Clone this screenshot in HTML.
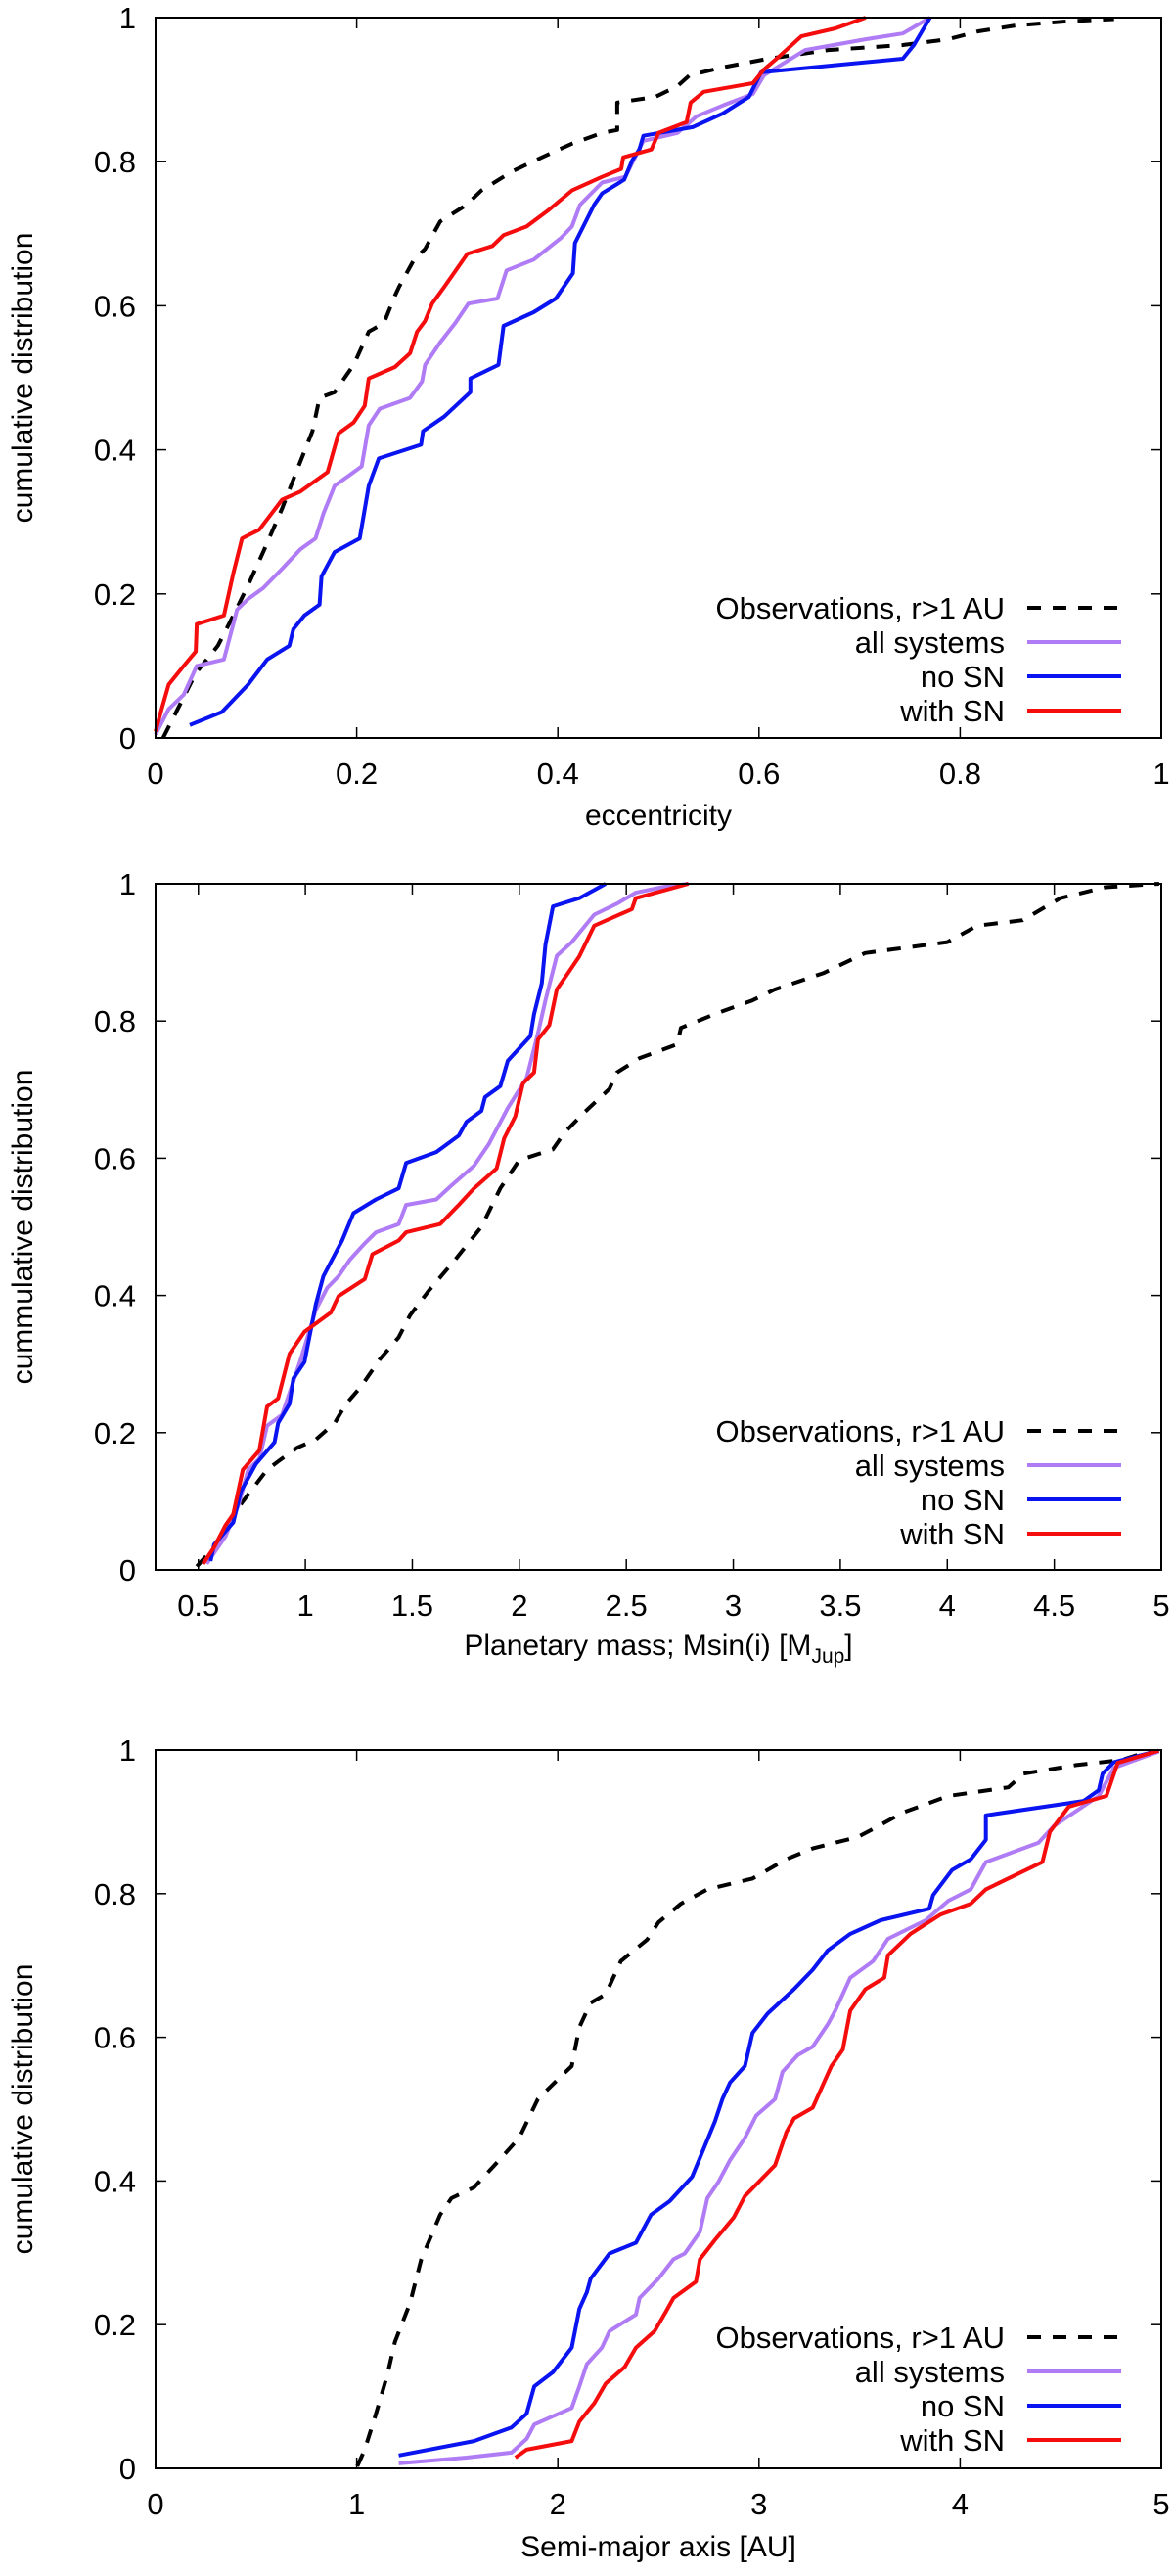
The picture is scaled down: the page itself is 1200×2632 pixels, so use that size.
<!DOCTYPE html>
<html><head><meta charset="utf-8">
<style>
html,body{margin:0;padding:0;background:#fff;}
svg{display:block;font-family:"Liberation Sans",sans-serif;}
</style></head>
<body>
<svg id="fig" width="1200" height="2632" viewBox="0 0 1200 2632" xmlns="http://www.w3.org/2000/svg"></svg>
<script>
// ---------- Panel 1: eccentricity ----------
const eccObsX=[0.0075,0.04,0.062,0.073,0.092,0.107,0.126,0.141,0.156,0.163,0.178,0.197,0.212,0.227,0.238,0.242,0.257,0.268,0.283,0.309,0.324,0.354,0.384,0.414,0.444,0.459,0.459,0.497,0.519,0.531,0.564,0.609,0.669,0.743,0.788,0.818,0.855,0.908,0.953];
const eccObsY=[0,0.09,0.128,0.158,0.212,0.258,0.319,0.373,0.426,0.472,0.48,0.518,0.564,0.576,0.614,0.626,0.664,0.679,0.717,0.74,0.76,0.786,0.806,0.825,0.84,0.844,0.882,0.89,0.905,0.92,0.931,0.943,0.955,0.962,0.97,0.981,0.989,0.995,0.998];
const eccAllX=[0,0.013,0.028,0.041,0.068,0.081,0.092,0.107,0.126,0.144,0.159,0.167,0.178,0.193,0.205,0.212,0.223,0.253,0.265,0.268,0.283,0.298,0.311,0.34,0.349,0.376,0.403,0.414,0.422,0.444,0.467,0.485,0.519,0.538,0.564,0.594,0.605,0.646,0.706,0.743,0.77];
const eccAllY=[0.005,0.04,0.06,0.1,0.109,0.178,0.193,0.208,0.235,0.262,0.277,0.312,0.35,0.365,0.377,0.434,0.457,0.472,0.495,0.518,0.549,0.576,0.603,0.61,0.649,0.664,0.694,0.71,0.74,0.771,0.779,0.829,0.84,0.863,0.878,0.894,0.92,0.955,0.97,0.978,1];
const eccNoX=[0.034,0.066,0.092,0.111,0.133,0.137,0.148,0.163,0.165,0.178,0.203,0.212,0.222,0.264,0.266,0.287,0.313,0.313,0.341,0.346,0.376,0.398,0.415,0.417,0.436,0.444,0.466,0.474,0.481,0.485,0.534,0.564,0.59,0.602,0.743,0.754,0.77];
const eccNoY=[0.018,0.036,0.074,0.109,0.128,0.151,0.17,0.185,0.224,0.258,0.277,0.35,0.388,0.407,0.426,0.446,0.48,0.499,0.518,0.572,0.591,0.61,0.645,0.687,0.74,0.756,0.775,0.802,0.817,0.836,0.848,0.867,0.89,0.924,0.943,0.962,1];
const eccSnX=[0,0.006,0.013,0.028,0.04,0.041,0.068,0.077,0.086,0.103,0.126,0.144,0.171,0.182,0.197,0.208,0.212,0.238,0.253,0.26,0.268,0.275,0.287,0.31,0.335,0.346,0.369,0.391,0.414,0.444,0.463,0.465,0.493,0.5,0.528,0.532,0.545,0.594,0.605,0.62,0.642,0.676,0.706];
const eccSnY=[0.009,0.04,0.074,0.1,0.12,0.158,0.17,0.227,0.277,0.289,0.331,0.342,0.369,0.423,0.438,0.461,0.499,0.515,0.534,0.564,0.579,0.603,0.626,0.672,0.683,0.698,0.71,0.733,0.76,0.779,0.79,0.806,0.817,0.84,0.855,0.882,0.897,0.909,0.928,0.946,0.974,0.985,1];
const eccXTicks=[0,0.2,0.4,0.6,0.8,1];
const eccXTickLabels=["0","0.2","0.4","0.6","0.8","1"];

// ---------- Panel 2: planetary mass ----------
const massObsX=[0.493,0.539,0.61,0.663,0.733,0.821,0.873,0.961,1.049,1.137,1.19,1.26,1.348,1.436,1.489,1.577,1.70,1.823,1.911,1.999,2.157,2.21,2.298,2.421,2.456,2.562,2.738,2.755,2.913,3.089,3.194,3.423,3.616,4.0,4.14,4.352,4.528,4.739,4.99];
const massObsY=[0.005,0.021,0.049,0.081,0.11,0.146,0.158,0.178,0.19,0.214,0.242,0.267,0.307,0.339,0.371,0.407,0.452,0.5,0.556,0.597,0.613,0.637,0.665,0.701,0.725,0.746,0.766,0.79,0.81,0.83,0.846,0.87,0.899,0.915,0.939,0.947,0.979,0.995,1];
const massAllX=[0.539,0.627,0.69,0.733,0.785,0.821,0.891,0.926,0.979,1.049,1.102,1.155,1.208,1.278,1.33,1.436,1.471,1.612,1.682,1.788,1.858,1.946,2.034,2.087,2.122,2.175,2.245,2.35,2.456,2.544,2.667,2.79];
const massAllY=[0.009,0.049,0.097,0.146,0.162,0.21,0.226,0.258,0.307,0.379,0.411,0.428,0.452,0.476,0.492,0.504,0.532,0.54,0.56,0.589,0.621,0.673,0.717,0.782,0.83,0.895,0.915,0.955,0.971,0.987,0.995,1];
const massNoX=[0.557,0.574,0.663,0.698,0.768,0.856,0.873,0.926,0.944,0.996,1.049,1.084,1.172,1.225,1.33,1.436,1.471,1.612,1.717,1.753,1.823,1.84,1.911,1.946,2.052,2.069,2.105,2.122,2.157,2.28,2.403];
const massNoY=[0.013,0.037,0.069,0.114,0.154,0.186,0.214,0.242,0.279,0.303,0.387,0.428,0.48,0.52,0.54,0.556,0.593,0.609,0.633,0.653,0.669,0.689,0.705,0.742,0.778,0.81,0.855,0.911,0.967,0.979,1];
const massSnX=[0.522,0.574,0.627,0.663,0.708,0.785,0.821,0.873,0.926,0.996,1.119,1.155,1.278,1.313,1.436,1.471,1.63,1.717,1.788,1.894,1.929,1.981,2.017,2.069,2.087,2.14,2.175,2.228,2.28,2.35,2.526,2.544,2.79];
const massSnY=[0.009,0.033,0.065,0.081,0.146,0.174,0.238,0.25,0.315,0.347,0.375,0.399,0.424,0.46,0.48,0.492,0.504,0.532,0.556,0.585,0.629,0.661,0.709,0.725,0.773,0.794,0.846,0.87,0.894,0.939,0.963,0.979,1];
const massXTicks=[0.5,1,1.5,2,2.5,3,3.5,4,4.5,5];
const massXTickLabels=["0.5","1","1.5","2","2.5","3","3.5","4","4.5","5"];

// ---------- Panel 3: semi-major axis ----------
const smaObsX=[1.003,1.04,1.096,1.152,1.19,1.265,1.321,1.415,1.471,1.583,1.695,1.808,1.901,2.013,2.069,2.107,2.163,2.238,2.313,2.444,2.5,2.612,2.743,2.968,3.136,3.267,3.492,3.567,3.716,3.941,4.24,4.315,4.577,4.802,4.95];
const smaObsY=[0.003,0.026,0.076,0.13,0.176,0.23,0.291,0.353,0.376,0.391,0.425,0.46,0.514,0.545,0.56,0.614,0.648,0.66,0.706,0.736,0.76,0.786,0.806,0.821,0.848,0.863,0.879,0.89,0.913,0.936,0.948,0.967,0.979,0.986,0.999];
const smaAllX=[1.209,1.546,1.77,1.845,1.883,2.069,2.107,2.144,2.219,2.257,2.388,2.406,2.5,2.575,2.631,2.706,2.743,2.799,2.856,2.93,2.986,3.08,3.117,3.192,3.267,3.342,3.379,3.454,3.567,3.641,3.829,3.941,4.053,4.128,4.39,4.465,4.689,4.764,4.988];
const smaAllY=[0.007,0.015,0.022,0.041,0.061,0.084,0.114,0.145,0.168,0.191,0.214,0.237,0.264,0.291,0.299,0.329,0.376,0.399,0.429,0.46,0.491,0.514,0.552,0.575,0.587,0.618,0.637,0.683,0.706,0.737,0.763,0.79,0.806,0.844,0.871,0.894,0.936,0.975,0.998];
const smaNoX=[1.209,1.583,1.77,1.845,1.883,1.976,2.069,2.107,2.144,2.163,2.257,2.388,2.463,2.556,2.668,2.725,2.781,2.818,2.856,2.93,2.968,3.043,3.174,3.267,3.342,3.454,3.604,3.847,3.866,3.96,4.053,4.128,4.128,4.614,4.689,4.708,4.764,4.988];
const smaNoY=[0.018,0.038,0.057,0.076,0.114,0.134,0.168,0.222,0.245,0.264,0.299,0.314,0.353,0.372,0.406,0.445,0.483,0.514,0.537,0.56,0.606,0.633,0.667,0.694,0.721,0.744,0.763,0.779,0.798,0.833,0.848,0.875,0.909,0.929,0.944,0.967,0.983,0.999];
const smaSnX=[1.789,1.845,2.069,2.107,2.182,2.238,2.332,2.388,2.481,2.537,2.575,2.687,2.706,2.781,2.874,2.93,3.08,3.136,3.174,3.267,3.323,3.36,3.417,3.454,3.529,3.623,3.641,3.753,3.903,4.053,4.128,4.409,4.446,4.54,4.727,4.783,4.988];
const smaSnY=[0.015,0.026,0.038,0.065,0.091,0.118,0.141,0.168,0.191,0.218,0.237,0.26,0.291,0.318,0.349,0.379,0.422,0.468,0.487,0.502,0.537,0.56,0.583,0.637,0.667,0.683,0.714,0.744,0.771,0.786,0.806,0.844,0.886,0.921,0.936,0.982,0.999];
const smaXTicks=[0,1,2,3,4,5];
const smaXTickLabels=["0","1","2","3","4","5"];

const yTicks=[0,0.2,0.4,0.6,0.8,1];
const yTickLabels=["0","0.2","0.4","0.6","0.8","1"];
const legendLabels=["Observations, r>1 AU","all systems","no SN","with SN"];

const NS="http://www.w3.org/2000/svg";
const fig=document.getElementById('fig');
function mk(tag,attrs,parent){const e=document.createElementNS(NS,tag);for(const k in attrs)e.setAttribute(k,attrs[k]);(parent||fig).appendChild(e);return e;}

const styles=[
 {stroke:"#000",dash:"14 12",name:"observations"},
 {stroke:"#b07cf5",dash:"",name:"all-systems"},
 {stroke:"#0a14f0",dash:"",name:"no-sn"},
 {stroke:"#f50d0d",dash:"",name:"with-sn"}
];

function panel(id,box,xmin,xmax,xt,xtl,series,ytitle,xtitleHTML){
 const g=mk('g',{});
 
 
 const L=box.l,R=box.r,T=box.t,B=box.b;
 const sx=v=>L+(v-xmin)/(xmax-xmin)*(R-L);
 const sy=v=>B-v*(B-T);
 // series
 series.forEach((s,i)=>{
  const pts=s[0].map((x,j)=>sx(x).toFixed(1)+","+sy(s[1][j]).toFixed(1)).join(" ");
  const pl=mk('polyline',{points:pts,fill:"none",stroke:styles[i].stroke,"stroke-width":4,"stroke-linejoin":"round"},g);
  if(styles[i].dash)pl.setAttribute('stroke-dasharray',styles[i].dash);
  
  
 });
 // frame
 const fr=mk('rect',{x:L,y:T,width:R-L,height:B-T,fill:"none",stroke:"#000","stroke-width":2},g);
 
 
 // y ticks
 yTicks.forEach((v,i)=>{
  const y=sy(v);
  mk('line',{x1:L,x2:L+11,y1:y,y2:y,stroke:"#000","stroke-width":1.5},g);
  mk('line',{x1:R,x2:R-11,y1:y,y2:y,stroke:"#000","stroke-width":1.5},g);
  const t=mk('text',{x:L-20,y:y+11,"text-anchor":"end","font-size":31},g);
  t.textContent=yTickLabels[i];
  
  
 });
 xt.forEach((v,i)=>{
  const x=sx(v);
  mk('line',{x1:x,x2:x,y1:B,y2:B-11,stroke:"#000","stroke-width":1.5},g);
  mk('line',{x1:x,x2:x,y1:T,y2:T+11,stroke:"#000","stroke-width":1.5},g);
  const t=mk('text',{x:x,y:B+47,"text-anchor":"middle","font-size":31},g);
  t.textContent=xtl[i];
  
  
 });
 // y title
 const cy=(T+B)/2;
 const yt=mk('text',{x:0,y:0,transform:`translate(33,${cy}) rotate(-90)`,"text-anchor":"middle","font-size":30},g);
 yt.textContent=ytitle;
 
 
 // x title
 const xtt=mk('text',{x:(L+R)/2,y:box.xt,"text-anchor":"middle","font-size":30},g);
 xtt.innerHTML=xtitleHTML;
 
 
 // legend
 const lg=mk('g',{},g);
 
 
 legendLabels.forEach((lab,i)=>{
  const y=box.lg+i*35;
  const t=mk('text',{x:1027,y:y+11,"text-anchor":"end","font-size":31},lg);
  t.textContent=lab;
  
  
  const ln=mk('line',{x1:1050,x2:1146,y1:y,y2:y,stroke:styles[i].stroke,"stroke-width":4},lg);
  if(styles[i].dash)ln.setAttribute('stroke-dasharray',styles[i].dash);
  
  
 });
}

panel('eccentricity',{l:159,r:1187,t:18,b:754,xt:843,lg:621},0,1,eccXTicks,eccXTickLabels,
 [[eccObsX,eccObsY],[eccAllX,eccAllY],[eccNoX,eccNoY],[eccSnX,eccSnY]],
 "cumulative distribution","eccentricity");
panel('mass',{l:159,r:1187,t:903,b:1604,xt:1691,lg:1462},0.3,5,massXTicks,massXTickLabels,
 [[massObsX,massObsY],[massAllX,massAllY],[massNoX,massNoY],[massSnX,massSnY]],
 "cummulative distribution",'Planetary mass; Msin(i) [M<tspan font-size="21" dy="8">Jup</tspan><tspan dy="-8">]</tspan>');
panel('semimajor',{l:159,r:1187,t:1788,b:2522,xt:2612,lg:2388},0,5,smaXTicks,smaXTickLabels,
 [[smaObsX,smaObsY],[smaAllX,smaAllY],[smaNoX,smaNoY],[smaSnX,smaSnY]],
 "cumulative distribution","Semi-major axis [AU]");
</script>
</body></html>
